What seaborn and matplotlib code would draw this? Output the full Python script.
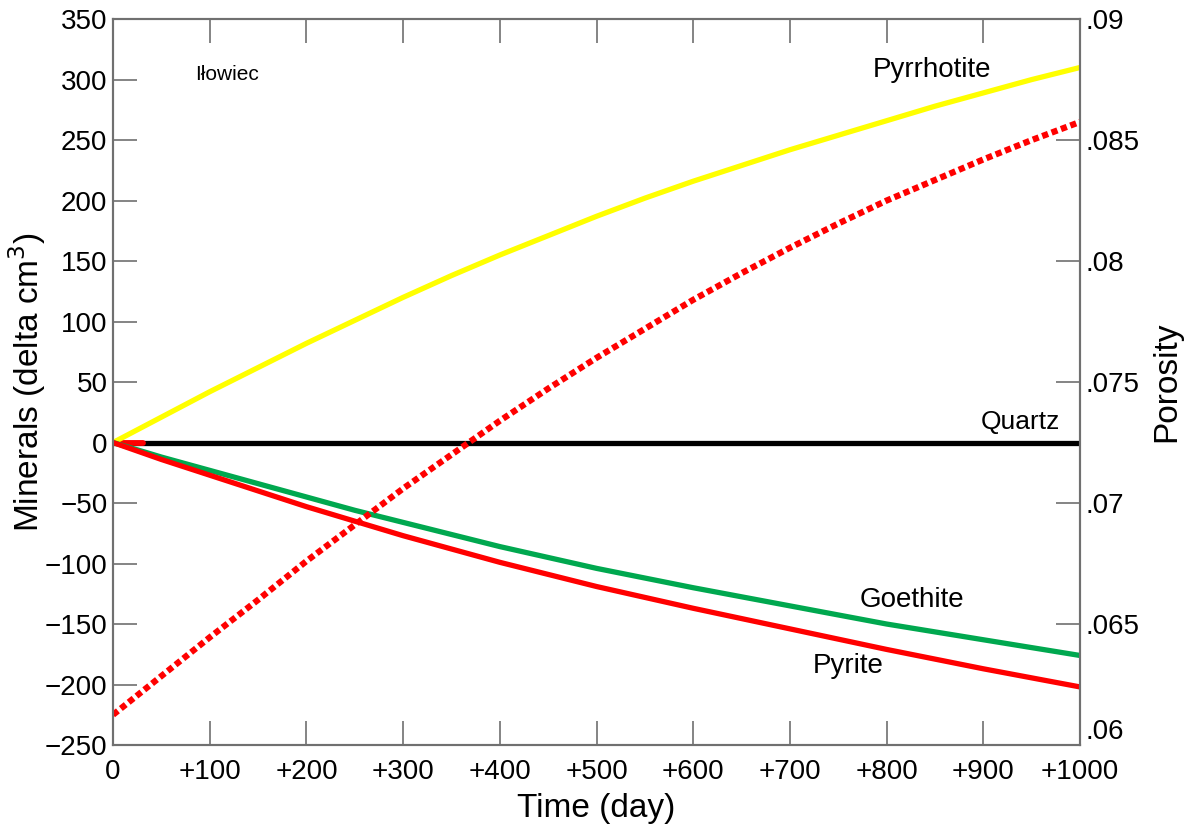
import matplotlib
matplotlib.use("Agg")
import matplotlib.pyplot as plt
import seaborn as sns
import pandas as pd
from matplotlib.ticker import FuncFormatter

# data (every 50 days)
days = [0, 50, 100, 150, 200, 250, 300, 350, 400, 450, 500,
        550, 600, 650, 700, 750, 800, 850, 900, 950, 1000]
pyrrhotite = [0, 21, 42, 62, 82, 101, 120, 138, 155, 171, 187,
              202, 216, 229, 242, 254, 266, 278, 289, 300, 310]
quartz = [0] * len(days)
goethite = [0, -12, -23, -34, -45, -56, -66, -76, -86, -95, -104,
            -112, -120, -127.5, -135, -142.5, -150, -156.5, -163, -169.5, -176]
pyrite = [0, -14, -27, -40, -53, -65, -77, -88, -99, -109, -119,
          -128, -137, -145.5, -154, -162.5, -171, -179, -187, -194.5, -202]
porosity = [0.06125, 0.06285, 0.06445, 0.0660, 0.0676, 0.0691, 0.0706,
            0.0720, 0.0734, 0.07473, 0.0760, 0.0772, 0.0784, 0.0795,
            0.08055, 0.08155, 0.0825, 0.08335, 0.0842, 0.0850, 0.08575]
# short red stub sitting on the zero line at the start
stub_days = [0, 31]
stub_vals = [0, 0]

x_ticks = [0, 100, 200, 300, 400, 500, 600, 700, 800, 900, 1000]
x_labels = ["0"] + [f"+{d}" for d in x_ticks[1:]]
y_ticks = [-250, -200, -150, -100, -50, 0, 50, 100, 150, 200, 250, 300, 350]
por_ticks = [0.06, 0.065, 0.07, 0.075, 0.08, 0.085, 0.09]

sns.set_theme(style="ticks")
plt.rcParams['font.family'] = ['Liberation Sans', 'DejaVu Sans']
plt.rcParams['text.color'] = 'black'
plt.rcParams['axes.labelcolor'] = 'black'
plt.rcParams['xtick.labelcolor'] = 'black'
plt.rcParams['ytick.labelcolor'] = 'black'

df = pd.DataFrame({'day': days, 'Pyrrhotite': pyrrhotite, 'Quartz': quartz,
                   'Goethite': goethite, 'Pyrite': pyrite, 'Porosity': porosity})

fig = plt.figure(figsize=(11.85, 8.3), dpi=100)
ax = fig.add_axes([0.0954, 0.1024, 0.816, 0.8746])

sns.lineplot(data=df, x='day', y='Quartz', ax=ax, color='black', lw=3.8)
sns.lineplot(x=stub_days, y=stub_vals, ax=ax, color='#ff0000', lw=4.2)
sns.lineplot(data=df, x='day', y='Pyrrhotite', ax=ax, color='#ffff00', lw=3.8)
sns.lineplot(data=df, x='day', y='Goethite', ax=ax, color='#00a84f', lw=3.8)
sns.lineplot(data=df, x='day', y='Pyrite', ax=ax, color='#ff0000', lw=3.8)

ax.set_xlim(0, 1000)
ax.set_ylim(-250, 350)
ax.set_xticks(x_ticks)
ax.set_xticklabels(x_labels)
ax.set_yticks(y_ticks)
ax.set_xlabel('Time (day)', fontsize=24, labelpad=6)
ax.set_ylabel('Minerals (delta cm$^3$)', fontsize=24, labelpad=-2)
ax.tick_params(axis='both', direction='in', length=17, width=1.2,
               color='#707070', labelsize=20, pad=4)
ax.tick_params(axis='x', top=True, pad=10)
ax.tick_params(axis='y', right=False)

ax2 = ax.twinx()
sns.lineplot(data=df, x='day', y='Porosity', ax=ax2, color='#ff0000', lw=4.5)
ax2.lines[-1].set_dashes([1.0, 0.6])
ax2.lines[-1].set_dash_capstyle('butt')
ax2.set_ylim(0.06, 0.09)
ax2.set_yticks(por_ticks)
ax2.yaxis.set_major_formatter(FuncFormatter(lambda v, p: f"{v:g}".lstrip("0")))
ax2.set_ylabel('Porosity', fontsize=24, labelpad=8)
ax2.tick_params(axis='y', direction='in', length=17, width=1.2,
                color='#707070', labelsize=20, pad=4)
# lift the bottom porosity label off the +1000 label, as in the original
ax2.yaxis.get_major_ticks()[0].label2.set_va('bottom')

for a in (ax, ax2):
    for s in a.spines.values():
        s.set_color('#707070')
        s.set_linewidth(1.5)

ax.text(85, 304, 'Iłowiec', fontsize=15, va='center', ha='left')
ax.text(786, 308, 'Pyrrhotite', fontsize=20, va='center', ha='left')
ax.text(897, 17, 'Quartz', fontsize=19, va='center', ha='left')
ax.text(772, -130, 'Goethite', fontsize=20, va='center', ha='left')
ax.text(724, -185, 'Pyrite', fontsize=20, va='center', ha='left')

fig.savefig('out.png', dpi=100)
